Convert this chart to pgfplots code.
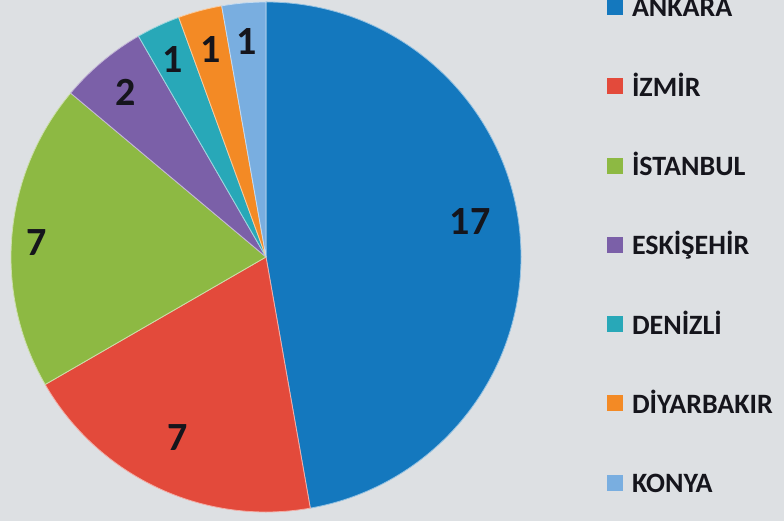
\documentclass[border=0pt]{standalone}
\usepackage{pgfplots}
\usepackage{pgfplotstable}
\pgfplotsset{compat=1.18}
\usepackage{fontspec}
\setmainfont{Carlito}

\definecolor{bg}{HTML}{DDE0E3}
\definecolor{cAnk}{HTML}{1478BE}
\definecolor{cIzm}{HTML}{E34A3B}
\definecolor{cIst}{HTML}{8DB943}
\definecolor{cEsk}{HTML}{7B60A8}
\definecolor{cDen}{HTML}{28A8B8}
\definecolor{cDiy}{HTML}{F38A25}
\definecolor{cKon}{HTML}{79AEE0}
\definecolor{txt}{HTML}{15151C}

% value = number of entries; lx, ly = label position (picture units)
\pgfplotstableread{
name        value color lx  ly
Ankara      17    cAnk  470 299
Izmir       7     cIzm  178 83
Istanbul    7     cIst  37  278
Eskisehir   2     cEsk  126 429
Denizli     1     cDen  173 461
Diyarbakir  1     cDiy  211 471
Konya       1     cKon  247 479
}\piedata

\begin{document}
\begin{tikzpicture}
\fill[bg] (0,0) rectangle (784pt,521pt);
\begin{axis}[
  scale only axis, width=784pt, height=521pt,
  xmin=0, xmax=784, ymin=0, ymax=521,
  hide axis, clip=false,
  legend image code/.code={\fill[#1] (0pt,-8pt) rectangle (16pt,8pt);},
  legend style={at={(axis cs:607,524)}, anchor=north west, draw=none, fill=none,
    inner sep=0pt, outer sep=0pt, row sep=59.3pt, column sep=9pt,
    font=\fontsize{28}{28}\selectfont\bfseries\color{txt},
    nodes={inner sep=0pt, text height=20pt, text depth=0pt}},
  legend cell align=left,
  legend entries={ANKARA, İZMİR, İSTANBUL, ESKİŞEHİR, DENİZLİ, DİYARBAKIR, KONYA},
]
\addlegendimage{fill=cAnk, draw=none}
\addlegendimage{fill=cIzm, draw=none}
\addlegendimage{fill=cIst, draw=none}
\addlegendimage{fill=cEsk, draw=none}
\addlegendimage{fill=cDen, draw=none}
\addlegendimage{fill=cDiy, draw=none}
\addlegendimage{fill=cKon, draw=none}

\pgfplotstablegetrowsof{\piedata}
\pgfmathtruncatemacro{\lastrow}{\pgfplotsretval-1}
\def\total{0}
\pgfplotsforeachungrouped \i in {0,...,\lastrow}{%
  \pgfplotstablegetelem{\i}{value}\of\piedata
  \pgfmathsetmacro{\total}{\total+\pgfplotsretval}%
}
\def\start{90}
\pgfplotsforeachungrouped \i in {0,...,\lastrow}{%
  \pgfplotstablegetelem{\i}{value}\of\piedata \let\v\pgfplotsretval
  \pgfplotstablegetelem{\i}{color}\of\piedata \let\c\pgfplotsretval
  \pgfmathsetmacro{\en}{\start-\v/\total*360}%
  \edef\temp{\noexpand\fill[\c, draw=white!55!\c, line width=0.8pt, line join=round]
    (axis cs:266,264) -- (axis cs:{266+255*cos(\start)},{264+255*sin(\start)})
    arc[start angle=\start, end angle=\en, radius=255pt] -- cycle;}%
  \temp
  \let\start\en
}

\addplot[draw=none, forget plot, nodes near coords, point meta=explicit symbolic,
  every node near coord/.append style={anchor=center, inner sep=0pt, text=txt,
    font=\fontsize{40}{40}\selectfont\bfseries}]
  table[x=lx, y=ly, meta=value] {\piedata};
\end{axis}
\pgfresetboundingbox
\path (0,0) rectangle (784pt,521pt);
\end{tikzpicture}
\end{document}
